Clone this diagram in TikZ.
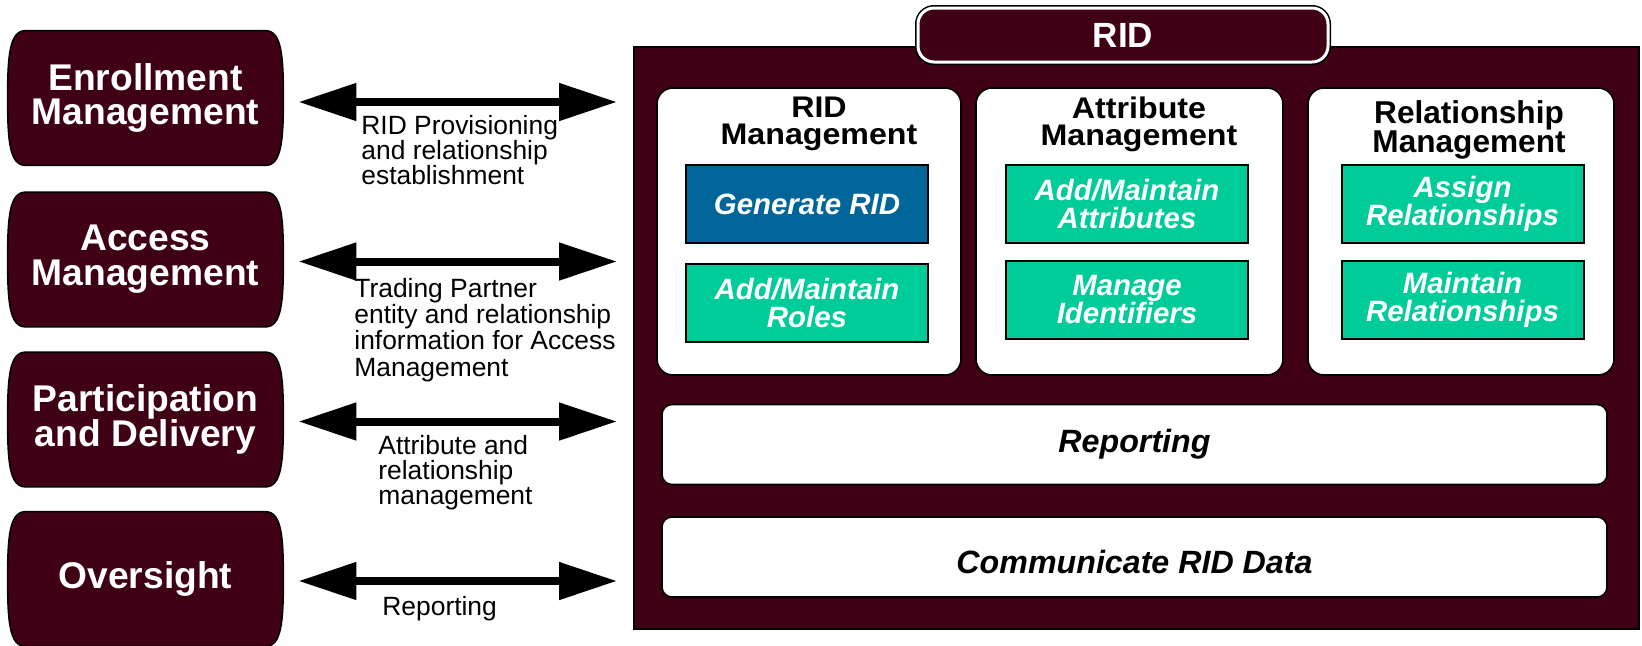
\documentclass[tikz,border=0pt]{standalone}
\usepackage{fontspec}
\setmainfont{Liberation Sans}
\newfontfamily\widesans[FakeStretch=1.08]{Liberation Sans}
\usetikzlibrary{arrows.meta,backgrounds}
\definecolor{maroon}{HTML}{3F0015}
\definecolor{ridgreen}{HTML}{00CC99}
\definecolor{ridblue}{HTML}{006699}
\tikzset{
 lbox/.style={minimum width=137.5pt, minimum height=67pt, inner sep=0pt, text=white, align=center, font=\fontsize{18.6}{17.4}\selectfont\bfseries},
 panel/.style={draw=black, line width=0.8pt, fill=white, rounded corners=8pt, minimum height=143.5pt, inner sep=0pt},
 ptitle/.style={align=center, font=\widesans\fontsize{14.9}{13.5}\selectfont\bfseries, inner sep=0pt},
 gbox/.style={draw=black, line width=1pt, fill=ridgreen, minimum width=121pt, minimum height=39pt, inner sep=0pt, align=center, text=white, font=\fontsize{14.7}{14}\selectfont\bfseries\itshape},
 bbox/.style={gbox, fill=ridblue},
 bar/.style={draw=black, line width=0.8pt, fill=white, rounded corners=5pt, minimum width=472.5pt, minimum height=40pt, inner sep=0pt, font=\fontsize{16.1}{16}\selectfont\bfseries\itshape},
 lbl/.style={anchor=north west, align=left, inner sep=0pt, font=\fontsize{13.2}{12.4}\selectfont},
 dblarrow/.style={line width=4pt, {Triangle[length=29pt,width=18pt]}-{Triangle[length=29pt,width=18pt]}, shorten <=7.5pt, shorten >=8pt},
 lshape/.style={fill=maroon, draw=black, line width=0.75pt},
}
\newcommand\lshapeof[1]{%
 \path[lshape] ([xshift=9pt]#1.north west) -- ([xshift=-9pt]#1.north east)
  .. controls ([xshift=-1pt]#1.north east) and ([yshift=-12pt]#1.north east) .. (#1.east)
  .. controls ([yshift=12pt]#1.south east) and ([xshift=-1pt]#1.south east) .. ([xshift=-9pt]#1.south east)
  -- ([xshift=9pt]#1.south west)
  .. controls ([xshift=1pt]#1.south west) and ([yshift=12pt]#1.south west) .. (#1.west)
  .. controls ([yshift=-12pt]#1.north west) and ([xshift=1pt]#1.north west) .. cycle;}
\begin{document}
\begin{tikzpicture}[x=0.5pt,y=-0.5pt]
\useasboundingbox (0,0) rectangle (1642,645);
% left boxes
\node[lbox] (enr) at (145.5,98) {Enrollment\\Management};
\node[lbox] (acc) at (145.5,259.5) {Access\\Management};
\node[lbox] (par) at (145.5,419.5) {Participation\\and Delivery};
\node[lbox] (ovs) at (145.5,579) {Oversight};
\begin{scope}[on background layer]
\lshapeof{enr}\lshapeof{acc}\lshapeof{par}\lshapeof{ovs}
\end{scope}
% big RID box
\node[draw=black, line width=1pt, fill=maroon, minimum width=502.5pt, minimum height=291pt, inner sep=0pt] (rid) at (1136.5,338) {};
\node[preaction={draw=black, line width=3pt}, fill=maroon, draw=white, line width=1.5pt, rounded corners=8pt, minimum width=205pt, minimum height=27pt, inner sep=0pt, text=white, font=\fontsize{17.5}{17.5}\selectfont\bfseries] (tab) at (1123,35) {RID};
% panels
\node[panel, minimum width=152pt] (p1) at (809,231.5) {};
\node[panel, minimum width=153.5pt] (p2) at (1129.5,231.5) {};
\node[panel, minimum width=153pt] (p3) at (1461,231.5) {};
\node[ptitle] (t1) at (819,124) {RID\\Management};
\node[ptitle] (t2) at (1139,124) {Attribute\\Management};
\node[ptitle, font=\fontsize{15.8}{14.4}\selectfont\bfseries] (t3) at (1469,130) {Relationship\\Management};
\node[bbox] (gen) at (807,204) {Generate RID};
\node[gbox] (roles) at (807,303) {Add/Maintain\\Roles};
\node[gbox] (attr) at (1127,204) {Add/Maintain\\Attributes};
\node[gbox] (ident) at (1127,300) {Manage\\Identifiers};
\node[gbox] (assign) at (1462.5,204) {Assign\\Relationships};
\node[gbox] (maint) at (1462.5,300) {Maintain\\Relationships};
% bars
\node[bar] (rep) at (1134.5,444.5) {Reporting};
\node[bar, text height=16.5pt, text depth=0pt] (comm) at (1134.5,557) {Communicate RID Data};
% arrows
\coordinate (a1) at ([yshift=-2pt]enr.east);
\coordinate (a2) at ([yshift=-1pt]acc.east);
\coordinate (a3) at ([yshift=-1pt]par.east);
\coordinate (a4) at ([yshift=-1pt]ovs.east);
\draw[dblarrow] (a1) -- (a1 -| rid.west);
\draw[dblarrow] (a2) -- (a2 -| rid.west);
\draw[dblarrow] (a3) -- (a3 -| rid.west);
\draw[dblarrow] (a4) -- (a4 -| rid.west);
% labels
\node[lbl] (l1) at (361,115) {RID Provisioning\\and relationship\\establishment};
\node[lbl, font=\fontsize{13.2}{13.1}\selectfont] (l2) at (354,278) {Trading Partner\\entity and relationship\\information for Access\\Management};
\node[lbl] (l3) at (378,435) {Attribute and\\relationship\\management};
\node[lbl] (l4) at (382,596) {Reporting};
\end{tikzpicture}
\end{document}
